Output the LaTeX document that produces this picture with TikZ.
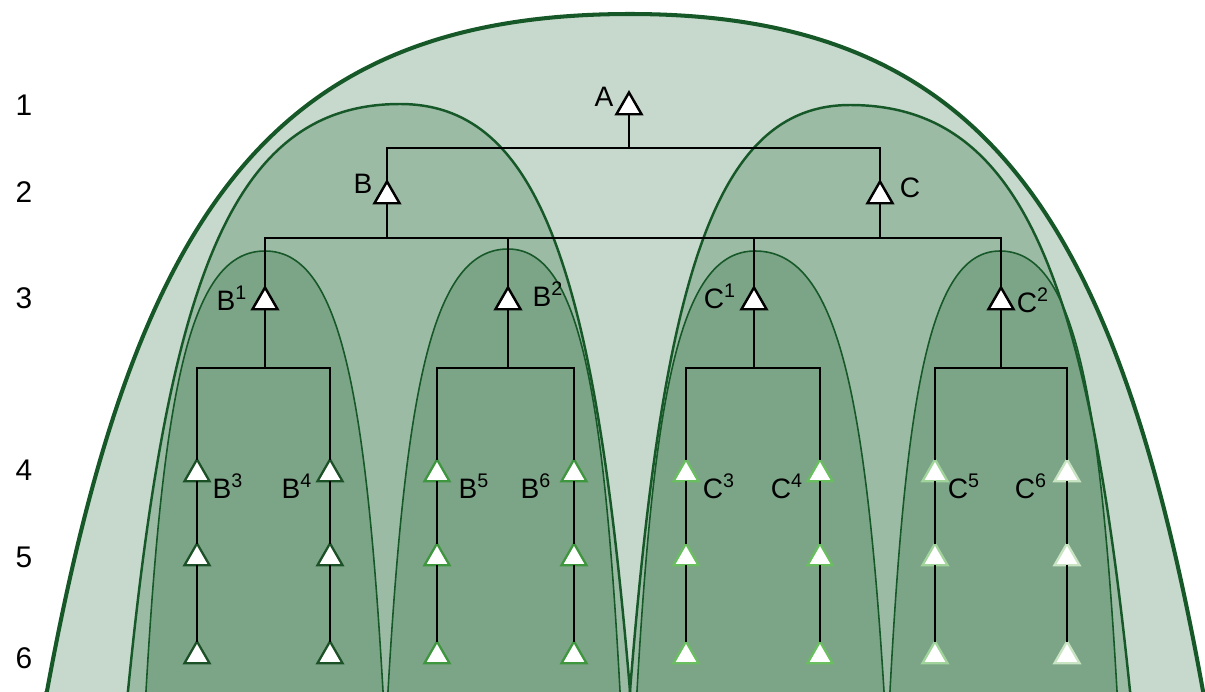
\documentclass[tikz,border=0pt]{standalone}
\usepackage{fontspec}
\setmainfont{Liberation Sans}
\usetikzlibrary{shapes.geometric}
\definecolor{archline}{RGB}{22,88,40}
\definecolor{archfill}{RGB}{30,100,50}
\definecolor{leafdark}{RGB}{28,80,38}
\definecolor{leafmid}{RGB}{62,150,62}
\definecolor{leaflight}{RGB}{105,190,95}
\definecolor{leafpale}{RGB}{160,212,155}
\definecolor{leaffaint}{RGB}{200,228,195}

% arch: [style] left foot, peak x, peak y, right foot (feet on y=691)
\newcommand{\archshape}[5][]{%
  \path[#1] ({#2-14.5*(#3-#2)/(691-#4)},720) -- (#2,691)
    .. controls ({#2+0.15*(#3-#2)},{#4+0.30*(691-#4)}) and ({#3-0.62*(#3-#2)},#4) .. (#3,#4)
    .. controls ({#3+0.62*(#5-#3)},#4) and ({#5-0.15*(#5-#3)},{#4+0.30*(691-#4)}) .. (#5,691)
    -- ({#5+14.5*(#5-#3)/(691-#4)},720) -- cycle;}

\begin{document}
\begin{tikzpicture}[x=0.02cm, y=-0.02cm,
    arch/.style={fill=archfill, fill opacity=0.25, draw=archline},
    tri/.style={regular polygon, regular polygon sides=3, minimum size=0.58cm,
                inner sep=0pt, outer sep=0pt, draw=black, line width=1.4pt, fill=white},
    leaf/.style={tri, line width=1.3pt},
    tree/.style={line width=1.1pt, black},
    lab/.style={font=\fontsize{16}{19}\selectfont, inner sep=0pt},
    rowlab/.style={font=\fontsize{17}{20}\selectfont, inner sep=0pt},
  ]
  \useasboundingbox (0,0) rectangle (1205,691);
  \clip (0,0) rectangle (1205,691);

  % Arches
  \archshape[arch, line width=2.3pt]{47}{630}{14}{1203}
  \archshape[arch, line width=1.4pt]{128}{400}{104}{630}
  \archshape[arch, line width=1.4pt]{630}{850}{105}{1130}
  \archshape[arch, line width=0.9pt]{146}{265}{251}{383}
  \archshape[arch, line width=0.9pt]{388}{508}{249}{620}
  \archshape[arch, line width=0.9pt]{637}{755}{251}{884}
  \archshape[arch, line width=0.9pt]{890}{1000}{251}{1117}

  % Row numbers
  \foreach \r/\y in {1/105, 2/192, 3/298, 4/470, 5/557, 6/658}
    \node[rowlab] (row\r) at (24,\y) {\r};

  % Upper tree
  \node[tri] (A) at (629,107) {};
  \node[tri] (B) at (387,196) {};
  \node[tri] (C) at (880,196) {};
  \node[tri] (B1) at (265,302) {};
  \node[tri] (B2) at (508,302) {};
  \node[tri] (C1) at (754,302) {};
  \node[tri] (C2) at (1001,302) {};

  \node[lab] (labA) at (604,97) {A};
  \node[lab] (labB) at (363,184) {B};
  \node[lab] (labC) at (910,188) {C};
  \node[lab] (labB1) at (232,298) {B\textsuperscript{1}};
  \node[lab] (labB2) at (548,294) {B\textsuperscript{2}};
  \node[lab] (labC1) at (720,296) {C\textsuperscript{1}};
  \node[lab] (labC2) at (1033,300) {C\textsuperscript{2}};

  \coordinate (jA) at (629,148);
  \coordinate (jB) at (387,238);
  \coordinate (jC) at (880,238);
  \coordinate (jB1) at (265,368);
  \coordinate (jB2) at (508,368);
  \coordinate (jC1) at (754,368);
  \coordinate (jC2) at (1001,368);

  % Leaf lineages
  \foreach \n/\x/\c in {B3/197/leafdark, B4/330/leafdark, B5/437/leafmid, B6/574/leafmid,
                        C3/686/leaflight, C4/820/leaflight, C5/935/leafpale, C6/1067/leaffaint} {
    \node[leaf, draw=\c] (\n) at (\x,474) {};
    \node[leaf, draw=\c] (\n a) at (\x,558) {};
    \node[leaf, draw=\c] (\n b) at (\x,656) {};
    \draw[tree] (\n.side 2) -- (\n a.corner 1) (\n a.side 2) -- (\n b.corner 1);
  }

  \foreach \n/\l/\s/\x in {B3/B/3/228, B4/B/4/297, B5/B/5/474, B6/B/6/536,
                          C3/C/3/719, C4/C/4/787, C5/C/5/964, C6/C/6/1031}
    \node[lab] (lab\n) at (\x,486) {\l\textsuperscript{\s}};

  % Connectors
  \draw[tree] (A.side 2) -- (jA);
  \draw[tree] (B.corner 1) |- (jA) -| (C.corner 1);
  \draw[tree] (B.side 2) -- (jB);
  \draw[tree] (C.side 2) -- (jC);
  \draw[tree] (B1.corner 1) |- (jB) -- (jC) -| (C2.corner 1);
  \draw[tree] (B2.corner 1) -- (B2.corner 1 |- jB);
  \draw[tree] (C1.corner 1) -- (C1.corner 1 |- jC);
  \draw[tree] (B1.side 2) -- (jB1);
  \draw[tree] (B2.side 2) -- (jB2);
  \draw[tree] (C1.side 2) -- (jC1);
  \draw[tree] (C2.side 2) -- (jC2);
  \draw[tree] (B3.corner 1) |- (jB1) -| (B4.corner 1);
  \draw[tree] (B5.corner 1) |- (jB2) -| (B6.corner 1);
  \draw[tree] (C3.corner 1) |- (jC1) -| (C4.corner 1);
  \draw[tree] (C5.corner 1) |- (jC2) -| (C6.corner 1);
\end{tikzpicture}
\end{document}
